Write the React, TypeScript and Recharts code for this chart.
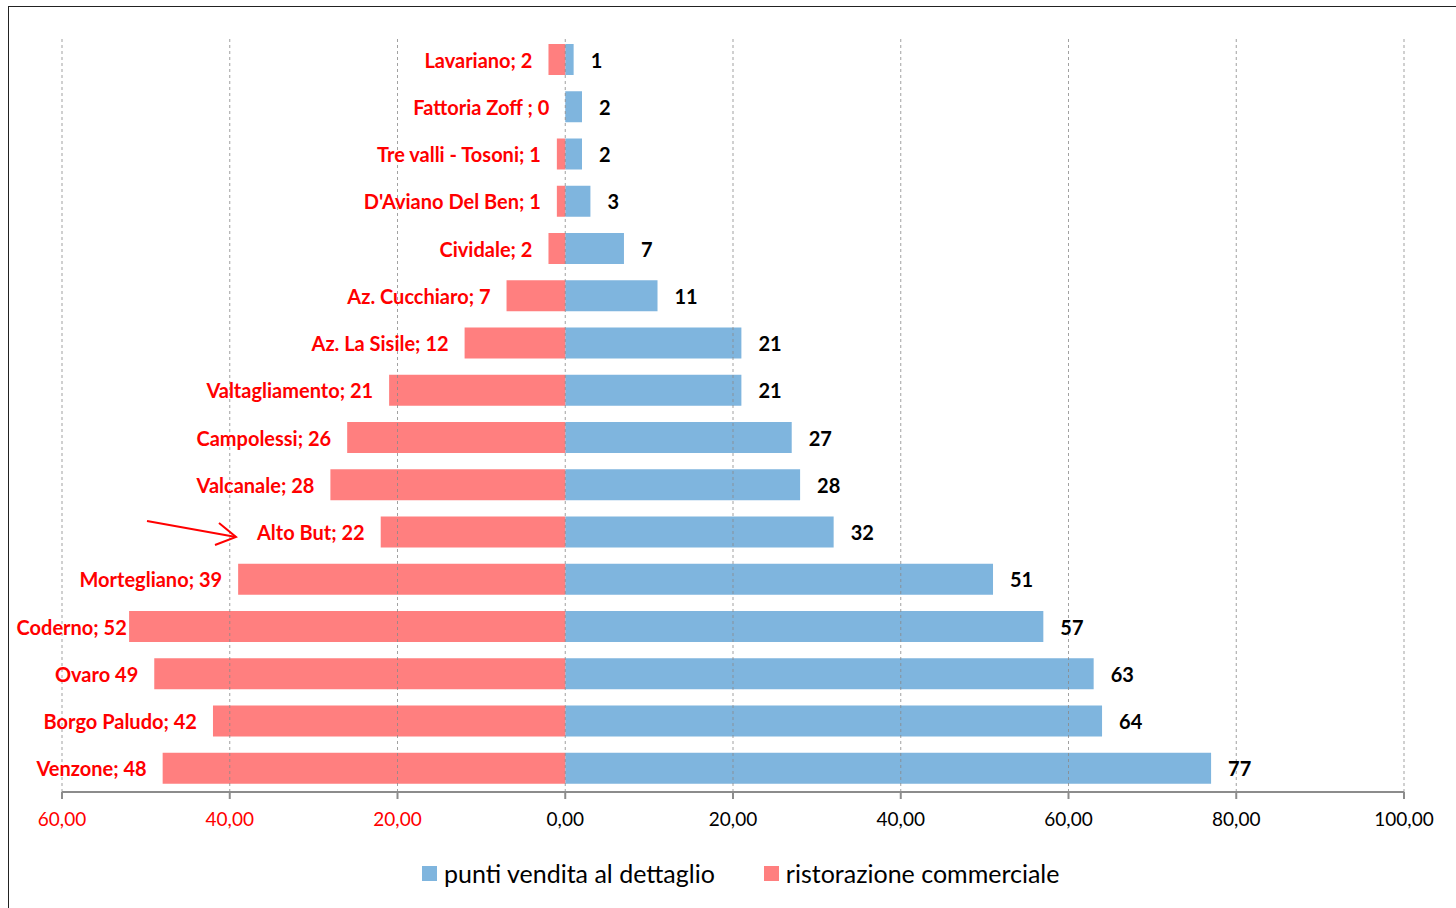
import React from "react";
import { Bar, BarChart, LabelList, ReferenceLine, XAxis, YAxis } from "recharts";

const CATEGORIES = [
  "Lavariano",
  "Fattoria Zoff",
  "Tre valli - Tosoni",
  "D'Aviano Del Ben",
  "Cividale",
  "Az. Cucchiaro",
  "Az. La Sisile",
  "Valtagliamento",
  "Campolessi",
  "Valcanale",
  "Alto But",
  "Mortegliano",
  "Coderno",
  "Ovaro",
  "Borgo Paludo",
  "Venzone",
];
const RETAIL = [1, 2, 2, 3, 7, 11, 21, 21, 27, 28, 32, 51, 57, 63, 64, 77];
const RESTAURANTS = [2, 0, 1, 1, 2, 7, 12, 21, 26, 28, 22, 39, 52, 49, 42, 48];
const RED_LABELS = [
  "Lavariano; 2",
  "Fattoria Zoff ; 0",
  "Tre valli - Tosoni; 1",
  "D'Aviano Del Ben; 1",
  "Cividale; 2",
  "Az. Cucchiaro; 7",
  "Az. La Sisile; 12",
  "Valtagliamento; 21",
  "Campolessi; 26",
  "Valcanale; 28",
  "Alto But; 22",
  "Mortegliano; 39",
  "Coderno; 52",
  "Ovaro 49",
  "Borgo Paludo; 42",
  "Venzone; 48",
];
const X_TICKS = [-60, -40, -20, 0, 20, 40, 60, 80, 100];

const BLUE = "#7fb5de";
const RED = "#ff7f7f";
const FONT = "Lato, 'Open Sans', sans-serif";

const data = CATEGORIES.map((name, i) => ({
  name,
  retail: RETAIL[i],
  rest: -RESTAURANTS[i],
  label: RED_LABELS[i],
}));

const XTick = (props: any) => {
  const { x, y, payload } = props;
  const v = payload.value;
  return (
    <text
      x={x}
      y={y + 17}
      textAnchor="middle"
      dominantBaseline="central"
      fontFamily={FONT}
      fontSize={19}
      fill={v < 0 ? "#ff0000" : "#000"}
    >
      {Math.abs(v).toFixed(2).replace(".", ",")}
    </text>
  );
};

const RedLabel = (props: any) => {
  const { x, y, width, height, value } = props;
  const left = Math.min(x, x + width);
  const est = String(value).length * 9.8;
  // keep the label inside the frame, like Excel does for Coderno
  const end = Math.max(left - 16, 19 + est);
  return (
    <text
      x={end}
      y={y + height / 2}
      textAnchor="end"
      dominantBaseline="central"
      fontFamily={FONT}
      fontWeight="bold"
      fontSize={20}
      fill="#ff0000"
    >
      {value}
    </text>
  );
};

const BlueLabel = (props: any) => {
  const { x, y, width, height, value } = props;
  return (
    <text
      x={x + width + 17}
      y={y + height / 2}
      textAnchor="start"
      dominantBaseline="central"
      fontFamily={FONT}
      fontWeight="bold"
      fontSize={20}
      fill="#000"
    >
      {value}
    </text>
  );
};

export default function App() {
  return (
    <div
      style={{
        position: "absolute",
        left: 0,
        top: 0,
        width: 1456,
        height: 908,
        overflow: "hidden",
        background: "#fff",
      }}
    >
      <div
        style={{
          position: "absolute",
          left: 8,
          top: 6,
          width: 1470,
          height: 930,
          border: "1.5px solid #222",
        }}
      />
      <div style={{ position: "absolute", left: 0, top: 0 }}>
        <BarChart
          width={1456}
          height={908}
          data={data}
          layout="vertical"
          barSize={31}
          barGap={-31}
          margin={{ top: 36, left: 62, right: 52, bottom: 76 }}
        >
          <XAxis
            type="number"
            domain={[-60, 100]}
            ticks={X_TICKS}
            height={40}
            axisLine={{ stroke: "#8c8c8c", strokeWidth: 2 }}
            tickLine={{ stroke: "#8c8c8c", strokeWidth: 2 }}
            tickSize={7}
            tick={<XTick />}
          />
          <YAxis type="category" dataKey="name" hide />
          <Bar dataKey="retail" name="punti vendita al dettaglio" fill={BLUE} isAnimationActive={false}>
            <LabelList dataKey="retail" content={<BlueLabel />} />
          </Bar>
          <Bar
            dataKey="rest"
            name="ristorazione commerciale"
            fill={RED}
            minPointSize={0.01}
            isAnimationActive={false}
          >
            <LabelList dataKey="label" content={<RedLabel />} />
          </Bar>
          {X_TICKS.map((t) => (
            <ReferenceLine
              key={t}
              x={t}
              stroke="#8a8a8a"
              strokeOpacity={0.8}
              strokeDasharray="3 3"
            />
          ))}
        </BarChart>
      </div>
      <svg
        width={1456}
        height={908}
        style={{ position: "absolute", left: 0, top: 0, pointerEvents: "none" }}
      >
        <g stroke="#ff0000" strokeWidth={2} fill="none">
          <line x1={147} y1={521} x2={236} y2={537} />
          <polyline points="219,523 236,537 215,545" />
        </g>
      </svg>
      <div
        style={{
          position: "absolute",
          left: 422,
          top: 860,
          height: 26,
          display: "flex",
          alignItems: "center",
          fontFamily: FONT,
          fontSize: 25,
          color: "#000",
        }}
      >
        <span style={{ width: 15, height: 15, background: BLUE, marginRight: 7 }} />
        <span>punti vendita al dettaglio</span>
        <span style={{ width: 15, height: 15, background: RED, marginLeft: 49, marginRight: 7 }} />
        <span>ristorazione commerciale</span>
      </div>
    </div>
  );
}
